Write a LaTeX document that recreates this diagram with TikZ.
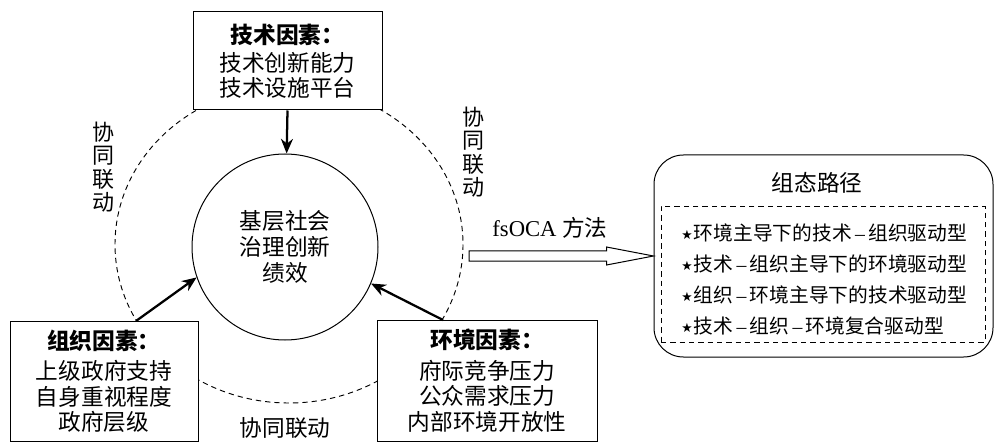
\documentclass[tikz,border=0pt]{standalone}
\usepackage{fontspec}
\setmainfont{Liberation Serif}
\newfontfamily\cjk{Noto Sans CJK SC}
\newfontfamily\symfont{DejaVu Sans}
\usetikzlibrary{calc,arrows.meta}
\newcommand\zhstar{{\symfont\fontsize{9.5}{9.5}\selectfont\raisebox{0.5pt}{★}}\kern1pt}
\newcommand\zhdash{{\rmfamily\,–\,}}
\begin{document}
\begin{tikzpicture}[x=0.75pt,y=-0.75pt,
  box/.style={draw, line width=0.75pt, fill=white, align=center, inner sep=0pt,
    font=\cjk\fontsize{17}{19}\selectfont},
  lbl/.style={align=center, inner sep=0pt, font=\cjk\fontsize{16.5}{17.5}\selectfont},
  dsh/.style={dash pattern=on 4pt off 3pt, line width=0.7pt},
  arr/.style={line width=1.7pt, -{Stealth[length=11pt,width=9pt]}}]
\useasboundingbox (0,0) rectangle (995,445);
% outer dashed ellipse
\draw[dsh] (289,244.5) ellipse [x radius=174, y radius=158.5];
% factor boxes
\node[box, minimum width=141.75pt, minimum height=73.5pt] (top) at (287.5,61)
  {{\bfseries 技术因素：}\\[2pt]技术创新能力\\技术设施平台};
\node[box, minimum width=141pt, minimum height=90pt] (org) at (104,381)
  {{\bfseries 组织因素：}\\[4pt]上级政府支持\\自身重视程度\\政府层级};
\node[box, minimum width=165pt, minimum height=90.75pt] (env) at (487,380.5)
  {{\bfseries 环境因素：}\\[4pt]府际竞争压力\\公众需求压力\\内部环境开放性};
% centre circle
\node[circle, draw, line width=0.75pt, fill=white, minimum size=139.5pt, align=center,
  inner sep=0pt, font=\cjk\fontsize{17}{19.5}\selectfont] (circ) at (285,247)
  {基层社会\\治理创新\\绩效};
% arrows into circle
\coordinate (orgs) at (136,321);
\coordinate (envs) at (443,320);
\draw[arr] (top.south) -- (circ.89);
\draw[arr] (orgs) -- (circ.199);
\draw[arr] (envs) -- (circ.337);
% labels
\node[lbl] (l1) at (103,167) {协\\同\\联\\动};
\node[lbl] (l2) at (473,152) {协\\同\\联\\动};
\node[lbl, font=\cjk\fontsize{17}{19}\selectfont] (l3) at (285,428) {协同联动};
% result box
\node[draw, line width=0.75pt, rounded corners=22pt, minimum width=254.25pt,
  minimum height=151.5pt] (pathbox) at (823.5,256) {};
\node[inner sep=0pt, font=\cjk\fontsize{17}{19}\selectfont] (ptitle) at (817,183) {组态路径};
\node[draw, dsh, minimum width=243pt, minimum height=102pt] (inner) at (823,274) {};
\node[anchor=west, align=left, inner sep=0pt, font=\cjk\fontsize{14.8}{23.25}\selectfont]
  (items) at (681,279)
  {\zhstar 环境主导下的技术\zhdash 组织驱动型\\
   \zhstar 技术\zhdash 组织主导下的环境驱动型\\
   \zhstar 组织\zhdash 环境主导下的技术驱动型\\
   \zhstar 技术\zhdash 组织\zhdash 环境复合驱动型};
% fsQCA arrow
\coordinate (fs) at (469,256);
\draw[line width=0.75pt, fill=white] ($(fs)+(0,-5)$) -- ($(pathbox.west)+(-47,-5)$)
  -- ($(pathbox.west)+(-47,-9)$) -- (pathbox.west) -- ($(pathbox.west)+(-47,9)$)
  -- ($(pathbox.west)+(-47,5)$) -- ($(fs)+(0,5)$) -- cycle;
\node[inner sep=0pt, font=\fontsize{17}{19}\selectfont] (fslbl) at (550,228)
  {fsOCA {\cjk 方法}};
\end{tikzpicture}
\end{document}
